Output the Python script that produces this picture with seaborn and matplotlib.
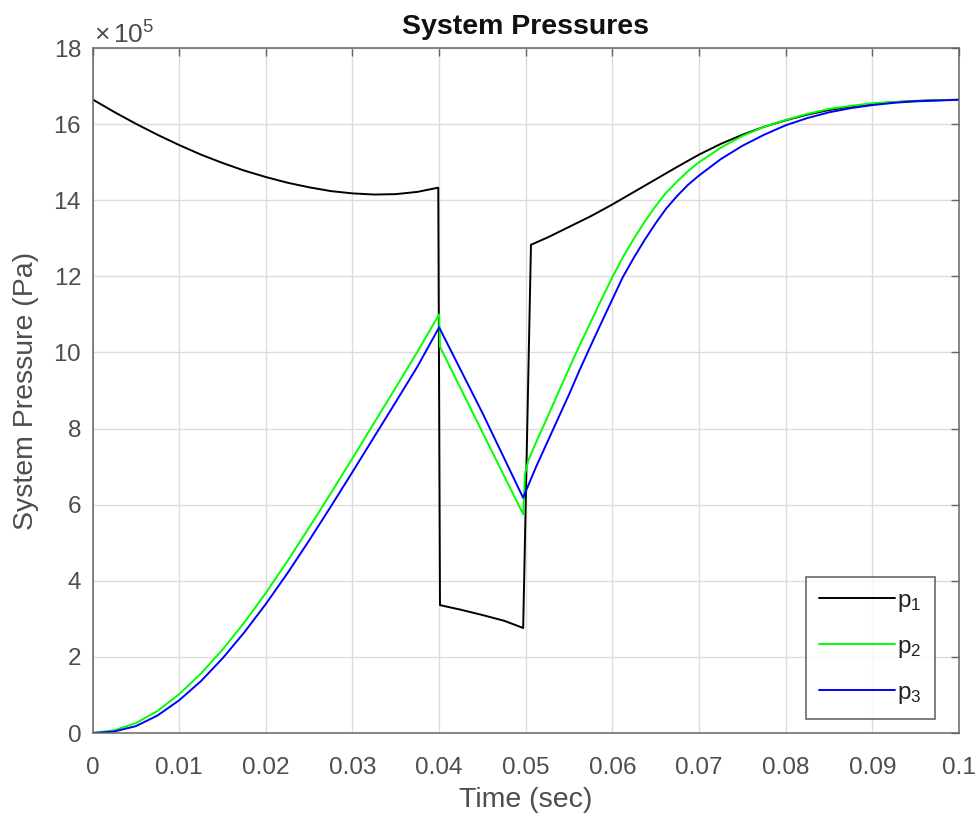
import numpy as np
import pandas as pd
import matplotlib
matplotlib.use('Agg')
import matplotlib.pyplot as plt
import seaborn as sns

# values, pressures in units of 1e5 Pa
t1 = [0, 0.0025, 0.005, 0.0075, 0.01, 0.0125, 0.015, 0.0175, 0.02, 0.0225, 0.025, 0.0275,
      0.03, 0.0325, 0.035, 0.0375, 0.0399, 0.0401, 0.0425, 0.045, 0.0475, 0.0497, 0.0506,
      0.0525, 0.055, 0.0575, 0.06, 0.0625, 0.065, 0.0675, 0.07, 0.0725, 0.075, 0.0775,
      0.08, 0.0825, 0.085, 0.0875, 0.09, 0.0925, 0.095, 0.0975, 0.1]
p1 = [16.65, 16.32, 16.01, 15.72, 15.45, 15.2, 14.98, 14.78, 14.61, 14.46, 14.34, 14.24,
      14.18, 14.15, 14.16, 14.22, 14.33, 3.36, 3.24, 3.1, 2.95, 2.76, 12.83,
      13.02, 13.3, 13.58, 13.89, 14.22, 14.55, 14.88, 15.2, 15.48, 15.72, 15.93,
      16.1, 16.25, 16.37, 16.46, 16.53, 16.58, 16.61, 16.63, 16.64]

t2 = [0, 0.0025, 0.005, 0.0075, 0.01, 0.0125, 0.015, 0.0175, 0.02, 0.0225, 0.025, 0.0275,
      0.03, 0.0325, 0.035, 0.0375, 0.04, 0.0401, 0.045, 0.0497, 0.0499, 0.0503, 0.0515,
      0.0525, 0.0537, 0.055, 0.0562, 0.0575, 0.0587, 0.06, 0.0612, 0.0625, 0.0637, 0.065,
      0.0662, 0.0675, 0.0687, 0.07, 0.0725, 0.075, 0.0775, 0.08, 0.0825, 0.085, 0.0875,
      0.09, 0.0925, 0.095, 0.0975, 0.1]
p2 = [0, 0.07, 0.26, 0.58, 1.02, 1.56, 2.19, 2.9, 3.68, 4.52, 5.4, 6.3,
      7.22, 8.15, 9.08, 10.02, 11.0, 10.15, 7.9, 5.75, 6.8, 7.17, 7.8,
      8.3, 8.92, 9.58, 10.18, 10.8, 11.38, 11.98, 12.5, 13.0, 13.43, 13.85,
      14.2, 14.5, 14.76, 15.0, 15.38, 15.69, 15.93, 16.11, 16.27, 16.4, 16.48,
      16.55, 16.58, 16.6, 16.63, 16.64]

t3 = [0, 0.0025, 0.005, 0.0075, 0.01, 0.0125, 0.015, 0.0175, 0.02, 0.0225, 0.025, 0.0275,
      0.03, 0.0325, 0.035, 0.0375, 0.04, 0.045, 0.0497, 0.05, 0.0512, 0.0525, 0.0537,
      0.055, 0.0562, 0.0575, 0.0587, 0.06, 0.0612, 0.0625, 0.0637, 0.065, 0.0662, 0.0675,
      0.0687, 0.07, 0.0725, 0.075, 0.0775, 0.08, 0.0825, 0.085, 0.0875, 0.09, 0.0925,
      0.095, 0.0975, 0.1]
p3 = [0, 0.04, 0.18, 0.46, 0.86, 1.36, 1.96, 2.64, 3.39, 4.2, 5.06, 5.95,
      6.86, 7.78, 8.7, 9.63, 10.66, 8.41, 6.18, 6.35, 7.0, 7.65, 8.25,
      8.9, 9.53, 10.18, 10.77, 11.4, 11.98, 12.5, 12.95, 13.4, 13.78, 14.12,
      14.4, 14.65, 15.08, 15.43, 15.72, 15.97, 16.16, 16.31, 16.42, 16.5, 16.56,
      16.6, 16.62, 16.64]

labels = ['p$_1$', 'p$_2$', 'p$_3$']
colors = ['#000000', '#00ff00', '#0000ff']

# build a long table for seaborn (Pa)
frames = []
for t, p, lab in zip([t1, t2, t3], [p1, p2, p3], labels):
    frames.append(pd.DataFrame({'time': t, 'pressure': np.array(p) * 1e5, 'series': lab}))
df = pd.concat(frames, ignore_index=True)

sns.set_style('white')
plt.rcParams['font.family'] = ['Liberation Sans', 'DejaVu Sans']
plt.rcParams['mathtext.fontset'] = 'custom'
plt.rcParams['mathtext.rm'] = 'Liberation Sans'
plt.rcParams['mathtext.it'] = 'Liberation Sans:italic'

txt = '#4d4d4d'
fig = plt.figure(figsize=(9.78, 8.18), dpi=100)
ax = fig.add_axes([0.0946, 0.1039, 0.886, 0.8374])

sns.lineplot(data=df, x='time', y='pressure', hue='series', palette=colors,
             sort=False, estimator=None, linewidth=1.4, ax=ax)

ax.set_xlim(0, 0.1)
ax.set_ylim(0, 18e5)
ax.set_xticks(np.arange(0, 0.1001, 0.01))
ax.set_xticklabels(['0', '0.01', '0.02', '0.03', '0.04', '0.05', '0.06', '0.07', '0.08', '0.09', '0.1'])
ax.set_yticks(np.arange(0, 18.1e5, 2e5))
ax.ticklabel_format(axis='y', style='sci', scilimits=(5, 5), useMathText=True)
# MATLAB-style exponent label drawn by hand
ax.yaxis.get_offset_text().set_visible(False)
ax.text(0.002, 0.999, r'$\times\,$10$^{5}$', transform=ax.transAxes, fontsize=19,
        color=txt, ha='left', va='bottom')

ax.grid(True, color='#dcdcdc', linewidth=1)
ax.tick_params(direction='in', length=6, width=1, colors='#666666', labelcolor=txt,
               labelsize=17.5, top=True, right=True, pad=8)
ax.tick_params(axis='x', pad=17)
for s in ax.spines.values():
    s.set_color('#666666')
    s.set_linewidth(1.1)

ax.set_xlabel('Time (sec)', fontsize=20.5, color=txt, labelpad=6)
ax.set_ylabel('System Pressure (Pa)', fontsize=20.5, color=txt, labelpad=10)
ax.set_title('System Pressures', fontsize=20.5, fontweight='bold', color='#111111', pad=10)

leg = ax.legend(loc='lower right', bbox_to_anchor=(0.9723, 0.0204), borderaxespad=0,
                fontsize=17.5, handlelength=3.1, handletextpad=0.1, labelspacing=0.9,
                frameon=True, fancybox=False, borderpad=0.55)
leg.get_frame().set_edgecolor('#333333')
leg.get_frame().set_linewidth(1.1)
for t in leg.get_texts():
    t.set_color('#222222')

plt.savefig('out.png', dpi=100)
